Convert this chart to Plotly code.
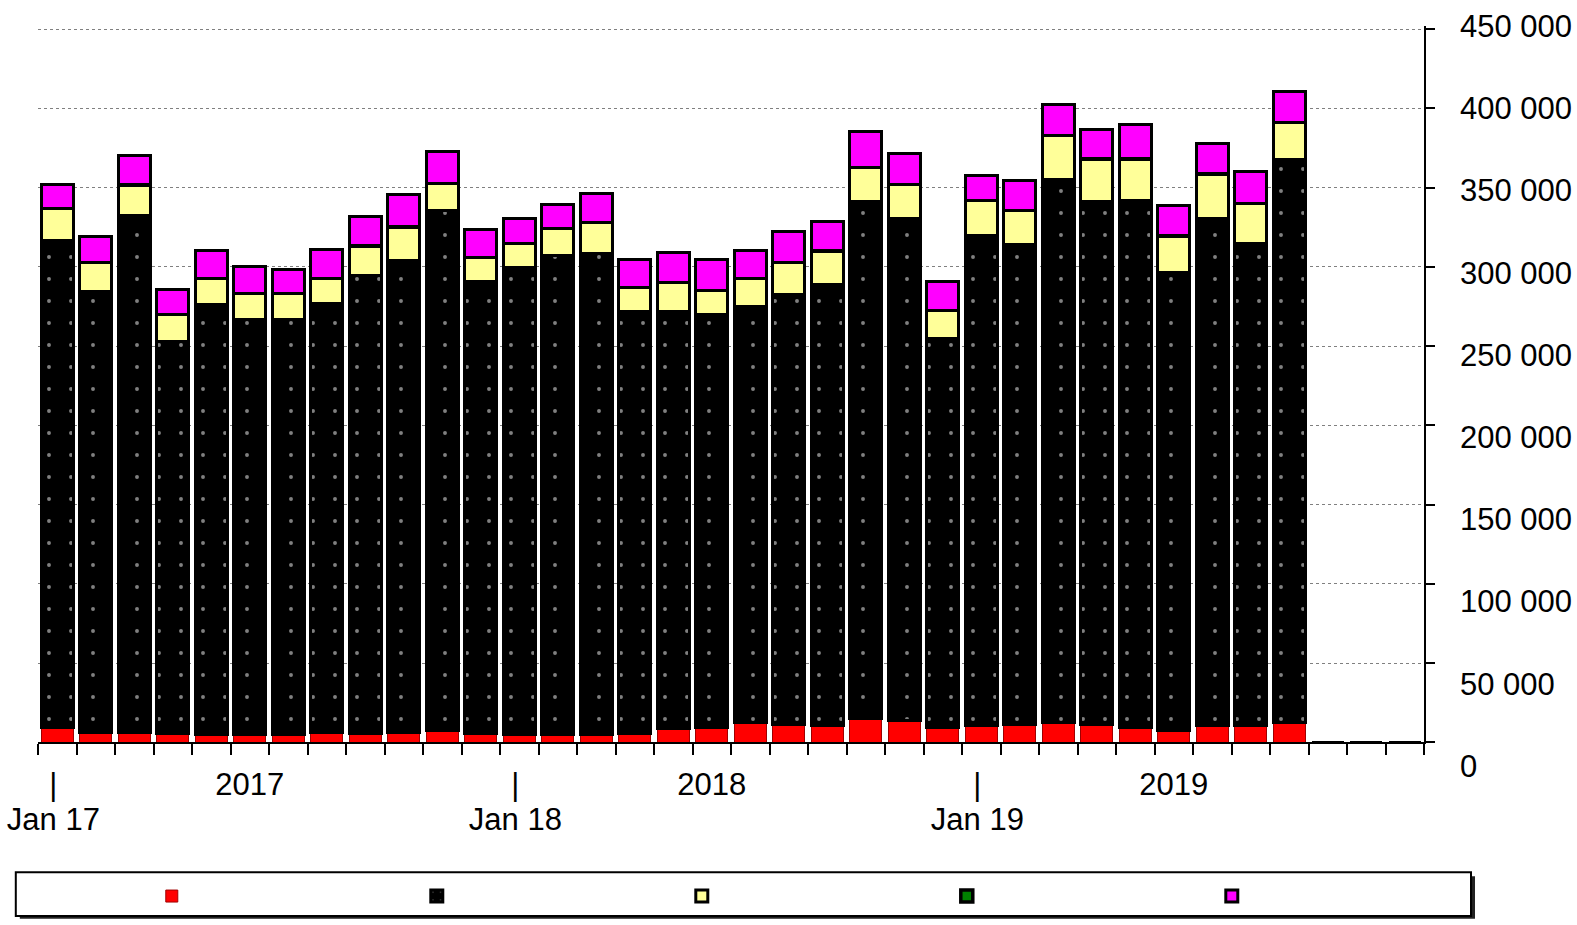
import plotly.graph_objects as go

months = ["Jan 17","Feb 17","Mar 17","Apr 17","May 17","Jun 17","Jul 17","Aug 17","Sep 17","Oct 17","Nov 17","Dec 17",
          "Jan 18","Feb 18","Mar 18","Apr 18","May 18","Jun 18","Jul 18","Aug 18","Sep 18","Oct 18","Nov 18","Dec 18",
          "Jan 19","Feb 19","Mar 19","Apr 19","May 19","Jun 19","Jul 19","Aug 19","Sep 19","Oct 19","Nov 19","Dec 19"]

red = [9500, 6600, 6600, 5600, 4800, 4800, 4800, 6600, 5600, 6600, 7400, 5600,
       4800, 4800, 4800, 5600, 8600, 9500, 12300, 11500, 10500, 15000, 14000, 9500,
       10500, 11300, 12300, 11300, 9500, 7600, 10500, 10500, 12300, 0, 0, 0]
black = [307400, 277600, 325700, 247600, 271200, 262100, 262100, 270200, 288700, 297600, 328000, 284900,
         294800, 302200, 303900, 266200, 263200, 260600, 262600, 271200, 278400, 326600, 316600, 245200,
         309600, 302600, 342800, 329800, 332700, 288800, 320100, 304500, 355400, 0, 0, 0]
yellow = [20000, 18600, 19400, 16900, 16700, 16300, 16300, 15900, 19000, 21100, 17400, 15400,
          15400, 17300, 19400, 15200, 18300, 15000, 17800, 20100, 21200, 21300, 21700, 17900,
          22100, 22000, 27800, 27100, 26000, 23200, 28100, 25300, 23700, 0, 0, 0]
green = [0] * 36
magenta = [15400, 16200, 18600, 15800, 17900, 17200, 15300, 18500, 18600, 20100, 20000, 18000,
           15600, 15200, 18300, 17400, 19000, 19300, 17700, 19300, 18800, 22500, 19500, 17900,
           15800, 18500, 19400, 18300, 21500, 19000, 19000, 19800, 19400, 0, 0, 0]

year_pos = [-0.1, 5, 11.9, 17, 23.9, 29]
year_text = ["|", "2017", "|", "2018", "|", "2019"]
jan_pos = [-0.1, 11.9, 23.9]
jan_text = ["Jan 17", "Jan 18", "Jan 19"]
y_ticks = list(range(0, 450001, 50000))
y_tick_text = ["0" if v == 0 else f"{v//1000} 000" for v in y_ticks]

x = list(range(len(months)))
FONT = "Liberation Sans, Arial, sans-serif"
FS = 31

fig = go.Figure()
fig.add_bar(x=x, y=red, name="", marker=dict(color="#ff0000", line=dict(color="#a00000", width=1)))
fig.add_bar(x=x, y=black, name=" ",
            marker=dict(color="#000000", line=dict(color="#000000", width=3),
                        pattern=dict(shape=".", fgcolor="#ffffff", bgcolor="#000000", size=22, solidity=0.025)))
fig.add_bar(x=x, y=yellow, name="  ", marker=dict(color="#ffff99", line=dict(color="#000000", width=3)))
fig.add_bar(x=x, y=green, name="   ", marker=dict(color="#008000", line=dict(color="#000000", width=3.5)))
fig.add_bar(x=x, y=magenta, name="    ", marker=dict(color="#ff00ff", line=dict(color="#000000", width=3)))
# helper (empty) traces so the label-only axes get drawn
fig.add_scatter(x=[None], y=[None], xaxis="x2", yaxis="y", showlegend=False, hoverinfo="skip")
fig.add_scatter(x=[None], y=[None], xaxis="x", yaxis="y2", showlegend=False, hoverinfo="skip")

W, H = 1577, 925
L, R = 38.2, 1424                  # plot area left / right (px)
T, B = 25.5, 771                   # extent of the value-label axis (px)
ZERO, TOP = 747.3, 28.7            # value axis: 0 and 450 000 (px)
ml, mr, mt, mb = L, W - R, T, H - B
pw, ph = R - L, B - T

d0 = (B - ZERO) / ph
d450 = (B - TOP) / ph
y_max = 452000
d1 = min(1.0, d450 + (y_max - 450000) / 450000 * (d450 - d0))


def px_x(p):
    return (p - L) / pw


def px_y(p):
    return (B - p) / ph


# legend frame (box + drop shadow)
box_l, box_r, box_t, box_b = 16, 1471, 878, 922
shapes = [
    dict(type="rect", xref="paper", yref="paper", x0=px_x(box_l + 4), x1=px_x(box_r + 4),
         y0=px_y(box_b + 3), y1=px_y(box_t + 4), fillcolor="#222222", line=dict(width=0), layer="above"),
    dict(type="rect", xref="paper", yref="paper", x0=px_x(box_l), x1=px_x(box_r),
         y0=px_y(box_b), y1=px_y(box_t), fillcolor="white", line=dict(color="black", width=2), layer="above"),
]

tickfont = dict(size=FS, family=FONT, color="black")

fig.update_layout(
    width=W, height=H, autosize=False,
    margin=dict(l=ml, r=mr, t=mt, b=mb),
    paper_bgcolor="white", plot_bgcolor="rgba(0,0,0,0)",
    barmode="stack", bargap=0.17,
    font=dict(family=FONT, color="black", size=FS),
    shapes=shapes,
    xaxis=dict(range=[-0.5, 35.5], tickvals=year_pos, ticktext=year_text, ticks="",
               showline=True, linecolor="black", linewidth=2, showgrid=False, zeroline=False,
               tickfont=tickfont, ticklabelstandoff=13, automargin=False,
               minor=dict(tickvals=[i - 0.5 for i in range(37)], ticks="outside", ticklen=11,
                          tickwidth=2, tickcolor="black", showgrid=False),
               fixedrange=True),
    xaxis2=dict(range=[-0.5, 35.5], overlaying="x", anchor="y", side="bottom",
                tickvals=jan_pos, ticktext=jan_text, ticks="", showline=False, showgrid=False,
                zeroline=False, tickfont=tickfont, ticklabelstandoff=56, automargin=False),
    yaxis=dict(domain=[d0, d1], range=[0, y_max], side="right", tickvals=y_ticks,
               showticklabels=False, ticks="outside", ticklen=9, tickwidth=2, tickcolor="black",
               showline=True, linecolor="black", linewidth=2, zeroline=False, automargin=False,
               showgrid=True, gridcolor="#808080", gridwidth=1, griddash="dot"),
    yaxis2=dict(domain=[0, 1], range=[0, 450000], side="right", anchor="free",
                position=1, tickvals=y_ticks, ticktext=y_tick_text, ticks="", showline=False,
                showgrid=False, zeroline=False, ticklabelstandoff=35, automargin=False,
                tickfont=tickfont),
    legend=dict(orientation="h", x=px_x(box_l), xanchor="left",
                y=px_y(885), yanchor="top", traceorder="normal",
                bgcolor="rgba(0,0,0,0)", borderwidth=0,
                entrywidth=84, entrywidthmode="pixels", indentation=136,
                font=dict(size=16, family=FONT)),
    showlegend=True,
)

fig.write_html("out.html", config={"displayModeBar": False},
               post_script="document.body.style.margin='0';document.body.style.overflow='hidden';")
